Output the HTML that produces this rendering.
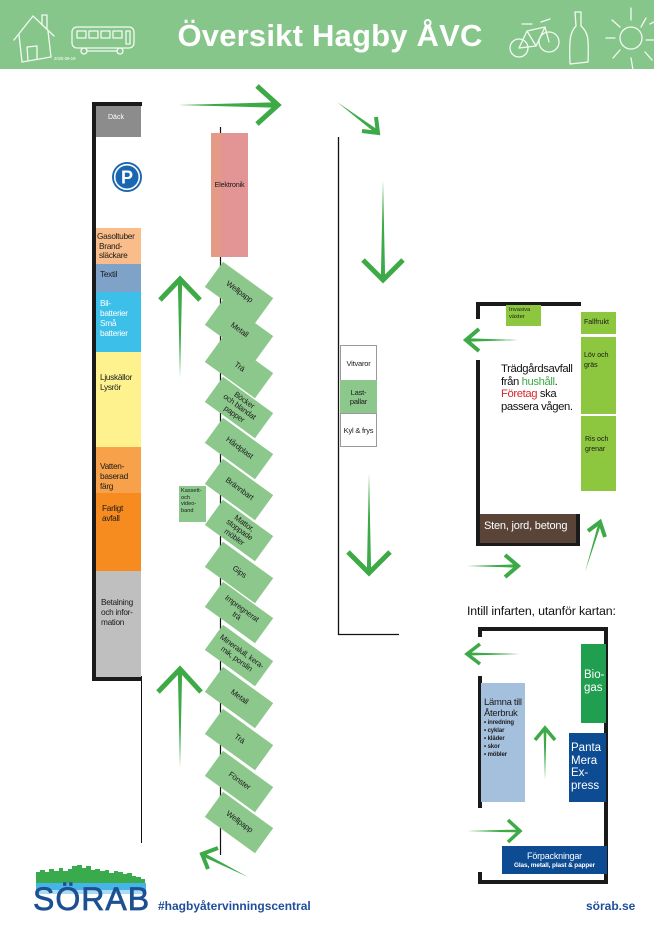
<!DOCTYPE html>
<html><head><meta charset="utf-8">
<style>
*{margin:0;padding:0;box-sizing:border-box}
html,body{width:654px;height:928px;background:#fff;overflow:hidden}
body{position:relative;font-family:"Liberation Sans","DejaVu Sans",sans-serif;color:#1a1a1a}
.a{position:absolute}
.hdr{left:0;top:0;width:654px;height:69px;background:#87c68a}
.title{left:0;top:18px;width:660px;text-align:center;font-size:31px;font-weight:bold;color:#fff;letter-spacing:0.2px}
.lc{position:absolute;left:96px;width:45px;font-size:8.3px;line-height:9.5px;letter-spacing:-0.3px;padding-left:4px}
.rb{position:absolute;width:62px;height:31px;background:#8cc88c;transform:rotate(36deg);display:flex;align-items:center;justify-content:center;text-align:center;font-size:7.8px;line-height:8.2px;color:#222;letter-spacing:-0.2px}
.mb{position:absolute;left:340px;width:37px;border:1px solid #999;font-size:7.5px;line-height:9px;text-align:center;display:flex;align-items:center;justify-content:center;letter-spacing:-0.2px}
.blk{position:absolute;background:#1a1a1a}
</style></head><body>

<div class="a hdr"></div>
<div class="a title">Översikt Hagby ÅVC</div>

<svg class="a" style="left:0;top:0" width="654" height="928" viewBox="0 0 654 928">
 <!-- header icons -->
 <g fill="none" stroke="#fff" stroke-width="1.3" opacity="0.9" stroke-linecap="round" stroke-linejoin="round">
  <path d="M14,40 L33,16 L54,36"/>
  <path d="M19,35 L22,62 L51,57 L48,31"/>
  <path d="M28,60 L27,47 L37,46 L37,59"/>
  <path d="M42,25 L42,15 L47,15 L47,29"/>
  <rect x="72" y="27" width="62" height="21" rx="5"/>
  <rect x="77" y="31" width="9" height="7"/><rect x="89" y="31" width="9" height="7"/><rect x="101" y="31" width="9" height="7"/><rect x="113" y="31" width="9" height="7"/>
  <path d="M126,31 L130,31 L130,44 L126,44 Z"/>
  <circle cx="84" cy="51" r="3"/><circle cx="120" cy="51" r="3"/>
  <path d="M87,51 L117,51"/>
  <circle cx="519" cy="48" r="9"/><circle cx="549" cy="42" r="10"/>
  <path d="M519,48 L527,31 L545,27 L549,42 M527,31 L536,46 L519,48 M536,46 L545,27 M522,24 L532,24 M541,22 L550,19"/>
  <path d="M575,12 L581,12 L581,26 C588,32 589,38 588,62 L570,64 C569,40 570,32 576,26 Z"/>
  <circle cx="631" cy="38" r="11"/>
  <path d="M606,38 L615,38 M612,20 L620,27 M631,8 L631,20 M646,18 L641,27 M613,58 L620,50 M631,58 L633,70 M645,52 L652,60 M646,40 L654,40 M650,24 L654,22"/>
 </g>
 <text x="54" y="60" font-size="4.2" fill="#fff" font-family="Liberation Sans, sans-serif">2025-09-19</text>

 <!-- lines -->
 <line x1="220.5" y1="127" x2="220.5" y2="855" stroke="#111" stroke-width="1.2"/>
 <line x1="141.5" y1="678" x2="141.5" y2="843" stroke="#111" stroke-width="1"/>
 <line x1="338.5" y1="137" x2="338.5" y2="635" stroke="#111" stroke-width="1.3"/>
 <line x1="338" y1="634.5" x2="399" y2="634.5" stroke="#111" stroke-width="1.3"/>

 <!-- arrows -->
 <g fill="#3daa47" stroke="none">
  <polygon points="178,105 276,102.3 276,107.7"/>
  <polygon points="337,102 374.8,132.6 377.2,129.4"/>
  <polygon points="383,180 380.8,280 385.2,280"/>
  <polygon points="369,473 366.8,574 371.2,574"/>
  <polygon points="180,378 177.8,280 182.2,280"/>
  <polygon points="180,768 177.8,670 182.2,670"/>
  <polygon points="248,877 202.9,852.2 201.1,855.8"/>
  <polygon points="518,340 468,338.3 468,341.7"/>
  <polygon points="467,566 517,564.3 517,567.7"/>
  <polygon points="585,572 601.4,523.4 598.6,522.6"/>
  <polygon points="520,654 468,652.5 468,655.5"/>
  <polygon points="545,780 543.5,729 546.5,729"/>
  <polygon points="467,831 520,829.5 520,832.5"/>
 </g>
 <g fill="none" stroke="#3daa47" stroke-width="5" stroke-linejoin="miter">
  <polyline points="257,86 278,105 257,124"/>
  <polyline points="363,260 383,280 403,260"/>
  <polyline points="348,552 369,573 390,552"/>
  <polyline points="160,300 180,279 200,300"/>
  <polyline points="158,692 180,669 201,692"/>
 </g>
 <g fill="none" stroke="#3daa47" stroke-width="4" stroke-linejoin="miter">
  <polyline points="362,131 378,133 376,117"/>
  <polyline points="218,848 202,854 208,869"/>
  <polyline points="479,329 466,340 479,351"/>
  <polyline points="505,555 518,566 505,577"/>
  <polyline points="588,531 600,522 605,537"/>
 </g>
 <g fill="none" stroke="#3daa47" stroke-width="3.5" stroke-linejoin="miter">
  <polyline points="480,644 467,654 480,664"/>
  <polyline points="535,740 545,728 555,740"/>
  <polyline points="508,820 520,831 508,842"/>
 </g>
</svg>

<!-- left column -->
<div class="blk" style="left:92px;top:102px;width:4px;height:579px"></div>
<div class="blk" style="left:92px;top:102px;width:50px;height:4px"></div>
<div class="blk" style="left:92px;top:676px;width:50px;height:5px"></div>
<div class="a" style="left:96px;top:106px;width:45px;height:31px;background:#8c8c8c"></div>
<div class="a" style="left:108px;top:114px;font-size:7px;color:#fff">Däck</div>
<svg class="a" style="left:111px;top:161px" width="32" height="32" viewBox="0 0 32 32">
 <circle cx="16" cy="16" r="15" fill="#1b66b1"/>
 <circle cx="16" cy="16" r="12.3" fill="none" stroke="#fff" stroke-width="1.6"/>
 <text x="16" y="22.5" text-anchor="middle" font-size="18" font-weight="bold" fill="#fff" font-family="Liberation Sans, sans-serif">P</text>
</svg>
<div class="lc" style="top:228px;height:36px;background:#f8bd8a;padding-top:4px;padding-left:1px">Gasoltuber<br>&nbsp;Brand-<br>&nbsp;släckare</div>
<div class="lc" style="top:264px;height:28px;background:#7fa3c8;padding-top:6px">Textil</div>
<div class="lc" style="top:292px;height:60px;background:#3cbfe8;color:#fff;padding-top:6px;line-height:10px">Bil-<br>batterier<br>Små<br>batterier</div>
<div class="lc" style="top:352px;height:95px;background:#fdf28e;padding-top:20px;line-height:10px">Ljuskällor<br>Lysrör</div>
<div class="lc" style="top:447px;height:46px;background:#f7a24a;padding-top:14px;line-height:10px">Vatten-<br>baserad<br>färg</div>
<div class="lc" style="top:493px;height:78px;background:#f68b1f;padding-top:10px;padding-left:6px;line-height:10px">Farligt<br>avfall</div>
<div class="lc" style="top:571px;height:106px;background:#c0bfc0;padding-top:26px;padding-left:5px;line-height:10px">Betalning<br>och infor-<br>mation</div>

<!-- Elektronik -->
<div class="a" style="left:211px;top:133px;width:37px;height:124px;background:#e39494"></div>
<div class="a" style="left:211px;top:133px;width:10px;height:124px;background:#e59a88"></div>
<div class="a" style="left:211px;top:180px;width:37px;text-align:center;font-size:7.3px;letter-spacing:-0.2px">Elektronik</div>

<!-- Kassett -->
<div class="a" style="left:179px;top:486px;width:27px;height:36px;background:#8cc88c;font-size:5.6px;line-height:6.6px;padding:2px 0 0 2px">Kassett-<br>och<br>video-<br>band</div>

<!-- rotated boxes -->
<div class="rb" style="left:208px;top:277px">Wellpapp</div>
<div class="rb" style="left:208px;top:315px">Metall</div>
<div class="rb" style="left:208px;top:352px">Trä</div>
<div class="rb" style="left:208px;top:392px">Böcker<br>och blandat<br>papper</div>
<div class="rb" style="left:208px;top:433px">Hårdplast</div>
<div class="rb" style="left:208px;top:474px">Brännbart</div>
<div class="rb" style="left:208px;top:515px">Mattor,<br>stoppade<br>möbler</div>
<div class="rb" style="left:208px;top:557px">Gips</div>
<div class="rb" style="left:208px;top:597px">Impregnerat<br>trä</div>
<div class="rb" style="left:208px;top:640px">Mineralull, kera-<br>mik, porslin</div>
<div class="rb" style="left:208px;top:682px">Metall</div>
<div class="rb" style="left:208px;top:724px">Trä</div>
<div class="rb" style="left:208px;top:766px">Fönster</div>
<div class="rb" style="left:208px;top:807px">Wellpapp</div>

<!-- middle boxes -->
<div class="mb" style="top:345px;height:36px">Vitvaror</div>
<div class="mb" style="top:380px;height:34px;background:#8cc88c;border-color:#8cc88c">Last-<br>pallar</div>
<div class="mb" style="top:413px;height:34px">Kyl &amp; frys</div>

<!-- right top box -->
<div class="blk" style="left:476px;top:302px;width:105px;height:4px"></div>
<div class="blk" style="left:476px;top:302px;width:4px;height:17px"></div>
<div class="blk" style="left:476px;top:360px;width:4px;height:186px"></div>
<div class="blk" style="left:476px;top:542px;width:104px;height:4px"></div>
<div class="blk" style="left:576px;top:514px;width:4px;height:32px"></div>
<div class="a" style="left:506px;top:305px;width:35px;height:21px;background:#8dc63f;font-size:5.8px;line-height:7px;padding:2px 0 0 3px">Invasiva<br>växter</div>
<div class="a" style="left:581px;top:312px;width:35px;height:22px;background:#8dc63f;font-size:7px;padding:7px 0 0 3px">Fallfrukt</div>
<div class="a" style="left:581px;top:337px;width:35px;height:77px;background:#8dc63f;font-size:7px;line-height:10px;padding:14px 0 0 3px">Löv och<br>gräs</div>
<div class="a" style="left:581px;top:416px;width:35px;height:75px;background:#8dc63f;font-size:7px;line-height:10px;padding:19px 0 0 4px">Ris och<br>grenar</div>
<div class="a" style="left:480px;top:514px;width:96px;height:29px;background:#5a4437;color:#fff;font-size:11px;padding:6px 0 0 4px;letter-spacing:-0.2px">Sten, jord, betong</div>
<div class="a" style="left:501px;top:363px;font-size:11.3px;line-height:12.5px;letter-spacing:-0.4px;color:#111">Trädgårdsavfall<br>från <span style="color:#3daa47">hushåll</span>.<br><span style="color:#d7282f">Företag</span> ska<br>passera vågen.</div>

<!-- lower right box -->
<div class="a" style="left:467px;top:604px;font-size:12.4px;letter-spacing:-0.15px;color:#111">Intill infarten, utanför kartan:</div>
<div class="blk" style="left:478px;top:627px;width:130px;height:4px"></div>
<div class="blk" style="left:478px;top:627px;width:4px;height:10px"></div>
<div class="blk" style="left:478px;top:676px;width:4px;height:132px"></div>
<div class="blk" style="left:478px;top:872px;width:4px;height:12px"></div>
<div class="blk" style="left:478px;top:880px;width:130px;height:4px"></div>
<div class="blk" style="left:604px;top:627px;width:4px;height:257px"></div>
<div class="a" style="left:581px;top:644px;width:25px;height:79px;background:#1f9f4f;color:#fff;font-size:11.5px;line-height:13px;padding:25px 0 0 3px">Bio-<br>gas</div>
<div class="a" style="left:569px;top:733px;width:37px;height:69px;background:#0d4c93;color:#fff;font-size:11.5px;line-height:12.7px;padding:9px 0 0 2px">Panta<br>Mera<br>Ex-<br>press</div>
<div class="a" style="left:481px;top:683px;width:44px;height:119px;background:#a5c0dd;font-size:9.5px;line-height:11px;padding:14px 0 0 3px;letter-spacing:-0.3px">Lämna till<br>Återbruk
 <div style="font-size:6px;line-height:8.1px;font-weight:bold;margin-top:0px;letter-spacing:-0.1px">• inredning<br>• cyklar<br>• kläder<br>• skor<br>• möbler</div></div>
<div class="a" style="left:502px;top:846px;width:105px;height:28px;background:#0d4c93;color:#fff;text-align:center;padding-top:5px">
 <div style="font-size:9px;line-height:10px;letter-spacing:-0.2px">Förpackningar</div>
 <div style="font-size:6.4px;line-height:9px;font-weight:bold;letter-spacing:-0.1px">Glas, metall, plast &amp; papper</div></div>

<!-- footer logo -->
<svg class="a" style="left:30px;top:860px" width="122" height="36" viewBox="0 0 122 36">
 <g fill="#3aab4d">
  <rect x="6" y="12" width="4" height="12"/><rect x="10" y="10" width="5" height="14"/><rect x="15" y="12" width="4" height="12"/><rect x="19" y="9" width="5" height="15"/><rect x="24" y="11" width="5" height="13"/><rect x="29" y="8" width="4" height="16"/><rect x="33" y="11" width="5" height="13"/><rect x="38" y="9" width="4" height="15"/><rect x="42" y="6" width="5" height="18"/><rect x="47" y="5" width="5" height="19"/><rect x="52" y="8" width="4" height="16"/><rect x="56" y="6" width="5" height="18"/><rect x="61" y="10" width="4" height="14"/><rect x="65" y="9" width="5" height="15"/><rect x="70" y="11" width="5" height="13"/><rect x="75" y="10" width="4" height="14"/><rect x="79" y="13" width="5" height="11"/><rect x="84" y="11" width="4" height="13"/><rect x="88" y="12" width="5" height="12"/><rect x="93" y="14" width="4" height="10"/><rect x="97" y="13" width="5" height="11"/><rect x="102" y="16" width="4" height="8"/><rect x="106" y="17" width="5" height="7"/><rect x="111" y="19" width="4" height="5"/>
 </g>
 <rect x="6" y="23" width="110" height="9" fill="#46b4e6"/>
 <rect x="6" y="30" width="110" height="4" fill="#a9dcf3"/>
</svg>
<div class="a" style="left:33px;top:882px;font-size:32px;line-height:34px;color:#1d4f91;letter-spacing:1px;-webkit-text-stroke:0.7px #1d4f91">SÖRAB</div>
<div class="a" style="left:158px;top:899px;font-size:12px;font-weight:bold;color:#1f4e9a">#hagbyåtervinningscentral</div>
<div class="a" style="left:586px;top:899px;font-size:12px;font-weight:bold;color:#1f4e9a">sörab.se</div>

</body></html>
